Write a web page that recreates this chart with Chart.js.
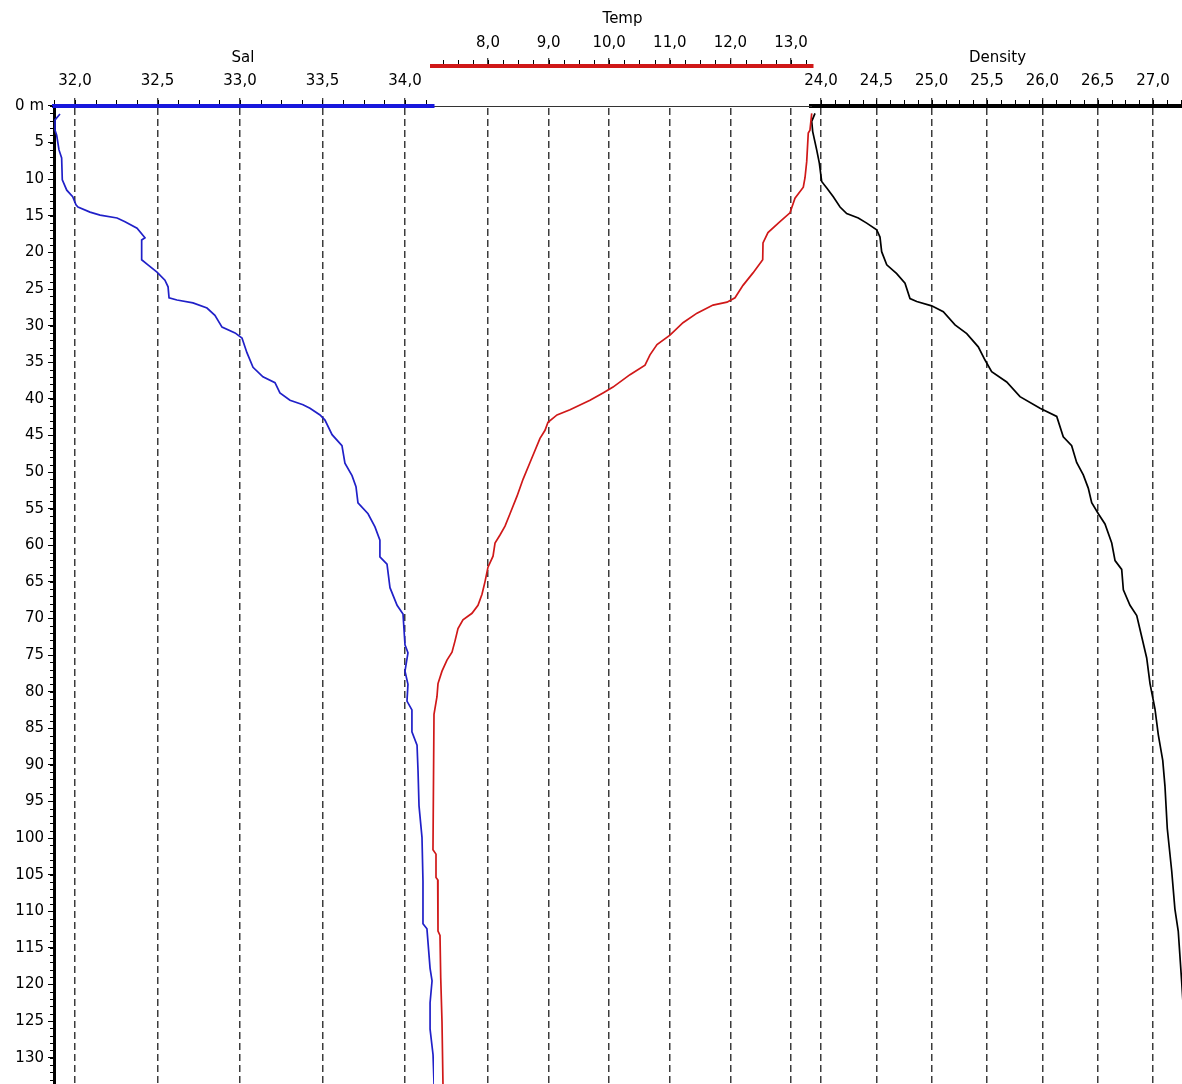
<!DOCTYPE html>
<html>
<head>
<meta charset="utf-8">
<script src="https://cdn.jsdelivr.net/npm/chart.js@4.4.1/dist/chart.umd.min.js"></script>
<style>
  html, body { margin: 0; padding: 0; background: #fff; }
  canvas { display: block; }
</style>
</head>
<body>
<canvas id="profile" width="1182" height="1084"></canvas>
<script>
// CTD cast: salinity, temperature and density against depth (m)
const depthTicks = [0, 5, 10, 15, 20, 25, 30, 35, 40, 45, 50, 55, 60, 65,
  70, 75, 80, 85, 90, 95, 100, 105, 110, 115, 120, 125, 130];
const salTicks = [32.0, 32.5, 33.0, 33.5, 34.0];
const tempTicks = [8, 9, 10, 11, 12, 13];
const densTicks = [24.0, 24.5, 25.0, 25.5, 26.0, 26.5, 27.0];

const salDepth = [1.1, 1.9, 3.3, 4.0, 6.0, 7.1, 10.1, 11.5, 12.4, 13.5, 13.8, 14.5,
  14.9, 15.3, 15.8, 16.7, 18.0, 18.3, 21.0, 21.7, 22.7, 23.8, 24.7, 26.2, 26.5,
  26.9, 27.6, 28.6, 30.2, 31.0, 31.7, 33.7, 35.7, 37.0, 37.8, 39.2, 40.2, 40.8,
  41.3, 42.2, 42.9, 44.9, 46.4, 48.8, 50.5, 52.0, 54.2, 55.7, 57.5, 59.3, 61.6,
  62.6, 65.8, 68.2, 69.4, 73.6, 74.7, 77.2, 79.0, 81.3, 82.5, 85.5, 87.3, 90.8,
  95.6, 99.9, 105.9, 111.7, 112.4, 117.8, 119.5, 122.5, 126.1, 129.6, 133.6];
const salValues = [31.909, 31.879, 31.879, 31.889, 31.903, 31.919, 31.923, 31.950,
  31.986, 32.006, 32.018, 32.091, 32.152, 32.255, 32.303, 32.376, 32.424, 32.404,
  32.404, 32.442, 32.497, 32.545, 32.564, 32.570, 32.618, 32.715, 32.800, 32.848,
  32.891, 32.970, 33.012, 33.042, 33.079, 33.139, 33.212, 33.242, 33.303, 33.382,
  33.424, 33.485, 33.515, 33.558, 33.618, 33.636, 33.679, 33.703, 33.715, 33.776,
  33.818, 33.848, 33.848, 33.891, 33.909, 33.952, 33.988, 34.000, 34.018, 34.000,
  34.018, 34.012, 34.042, 34.042, 34.073, 34.079, 34.085, 34.103, 34.109, 34.109,
  34.133, 34.152, 34.164, 34.152, 34.152, 34.170, 34.176];

const tempDepth = [1.0, 3.3, 3.7, 7.6, 9.8, 11.1, 12.6, 14.6, 15.8, 17.3, 18.7, 21.0,
  22.8, 24.5, 26.2, 26.8, 27.2, 28.3, 29.6, 31.3, 32.6, 34.0, 35.4, 36.7, 38.4,
  39.2, 40.2, 41.5, 42.2, 43.2, 44.3, 45.4, 48.7, 51.0, 53.3, 55.7, 57.4, 58.6,
  59.7, 61.5, 63.0, 65.0, 66.7, 68.2, 69.3, 70.2, 71.4, 73.1, 74.6, 75.7, 77.2,
  78.9, 80.7, 83.1, 101.6, 102.2, 105.4, 105.7, 112.7, 113.3, 119.1, 125.1, 133.6];
const tempValues = [13.342, 13.313, 13.285, 13.259, 13.231, 13.203, 13.066, 12.983,
  12.818, 12.620, 12.538, 12.533, 12.373, 12.208, 12.076, 11.944, 11.713, 11.449,
  11.218, 11.003, 10.789, 10.673, 10.591, 10.343, 10.063, 9.898, 9.683, 9.353,
  9.139, 8.990, 8.941, 8.858, 8.693, 8.578, 8.479, 8.363, 8.281, 8.198, 8.116,
  8.083, 8.000, 7.950, 7.901, 7.835, 7.736, 7.587, 7.505, 7.455, 7.406, 7.323,
  7.241, 7.175, 7.158, 7.109, 7.092, 7.142, 7.142, 7.170, 7.175, 7.208, 7.220,
  7.241, 7.257];

const densDepth = [1.0, 2.1, 3.5, 6.0, 7.8, 10.3, 11.2, 12.4, 13.8, 14.7, 15.3, 16.0,
  16.9, 17.9, 19.9, 21.7, 22.9, 24.2, 26.3, 26.7, 27.3, 28.1, 29.9, 31.1, 32.9,
  34.7, 36.3, 37.7, 39.7, 41.3, 42.4, 45.2, 46.4, 48.7, 50.4, 52.2, 54.2, 55.7,
  57.1, 59.7, 62.1, 63.3, 66.1, 68.2, 69.6, 72.5, 75.4, 78.9, 82.4, 85.9, 89.4,
  92.9, 98.7, 104.5, 109.7, 112.7, 119.6, 127.0];
const densValues = [23.946, 23.916, 23.925, 23.961, 23.985, 24.006, 24.052, 24.111,
  24.172, 24.232, 24.337, 24.413, 24.503, 24.533, 24.548, 24.594, 24.684, 24.759,
  24.804, 24.865, 25.000, 25.105, 25.211, 25.317, 25.421, 25.482, 25.542, 25.678,
  25.798, 25.979, 26.130, 26.189, 26.265, 26.310, 26.370, 26.415, 26.446, 26.506,
  26.566, 26.627, 26.657, 26.717, 26.732, 26.792, 26.853, 26.898, 26.943, 26.973,
  27.018, 27.048, 27.088, 27.108, 27.129, 27.169, 27.198, 27.228, 27.259, 27.290];

const FONT = { family: "'DejaVu Sans', sans-serif", size: 15 };
const BLUE = '#2020c8';
const RED = '#d01818';
const INK = '#000';

function pairs(depths, values) {
  return depths.map((d, i) => ({ x: values[i], y: d }));
}
function comma(v) {
  return v.toFixed(1).replace('.', ',');
}
function fixedTicks(list) {
  return scale => { scale.ticks = list.map(value => ({ value })); };
}
function rowHeight(h) {
  return scale => { scale.height = h; scale.paddingLeft = 0; scale.paddingRight = 0; };
}

// value axis on top: coloured bar, labelled major ticks, dashed lines down the plot
function valueAxis(stackWeight, min, max, list, color, pad) {
  return {
    type: 'linear', axis: 'x', position: 'top', stack: 'lo', weight: 1,
    stackWeight, min, max, bounds: 'data', display: true,
    afterBuildTicks: fixedTicks(list),
    afterFit: rowHeight(40),
    ticks: { font: FONT, color: INK, padding: pad, maxRotation: 0, autoSkip: false, callback: comma },
    grid: { color: '#3c3c3c', lineWidth: 1.5, tickLength: 8, tickColor: INK, tickWidth: 1 },
    border: { color, width: 4, dash: [7, 4] }
  };
}
// empty header cell that only carries a title
function titleCell(stackWeight, text) {
  return {
    type: 'linear', axis: 'x', position: 'top', stack: 'hi', weight: 2,
    stackWeight, min: 0, max: 1, display: true,
    afterFit: rowHeight(66),
    ticks: { display: false },
    grid: { display: false, drawTicks: false },
    border: { display: false },
    title: { display: !!text, text, font: FONT, color: INK, padding: { top: 49, bottom: 0 } }
  };
}

const tempAxis = valueAxis(381, 7.076, 13.363, tempTicks, RED, 6);
tempAxis.stack = 'hi';
tempAxis.weight = 2;
tempAxis.afterFit = rowHeight(66);
tempAxis.title = { display: true, text: 'Temp', font: FONT, color: INK, padding: { top: 10, bottom: 0 } };

// short unlabelled ticks between the major ones
const minorTicks = {
  id: 'minorTicks',
  afterDraw(chart, args, opts) {
    const ctx = chart.ctx;
    ctx.save();
    ctx.strokeStyle = INK;
    ctx.lineWidth = 1;
    ctx.beginPath();
    for (const m of opts.marks) {
      const s = chart.scales[m.scale];
      const lo = Math.min(s.min, s.max), hi = Math.max(s.min, s.max);
      for (let k = Math.ceil(lo / m.step - 1e-9); k * m.step <= hi + 1e-9; k++) {
        const p = Math.round(s.getPixelForValue(k * m.step)) + 0.5;
        if (s.isHorizontal()) {
          ctx.moveTo(p, s.bottom - 6);
          ctx.lineTo(p, s.bottom - 2);
        } else {
          ctx.moveTo(s.right - 4, p);
          ctx.lineTo(s.right - 1, p);
        }
      }
    }
    ctx.stroke();
    ctx.restore();
  }
};

new Chart(document.getElementById('profile'), {
  type: 'scatter',
  data: {
    datasets: [
      { label: 'Sal', data: pairs(salDepth, salValues), xAxisID: 'sal', yAxisID: 'y',
        borderColor: BLUE, borderWidth: 1.7, showLine: true, pointRadius: 0, tension: 0 },
      { label: 'Temp', data: pairs(tempDepth, tempValues), xAxisID: 'temp', yAxisID: 'y',
        borderColor: RED, borderWidth: 1.7, showLine: true, pointRadius: 0, tension: 0 },
      { label: 'Density', data: pairs(densDepth, densValues), xAxisID: 'dens', yAxisID: 'y',
        borderColor: INK, borderWidth: 1.7, showLine: true, pointRadius: 0, tension: 0 }
    ]
  },
  options: {
    responsive: false,
    animation: false,
    devicePixelRatio: 1,
    events: [],
    layout: { padding: 0 },
    plugins: {
      legend: { display: false },
      tooltip: { enabled: false },
      minorTicks: {
        marks: [
          { scale: 'y', step: 1 },
          { scale: 'sal', step: 0.125 },
          { scale: 'temp', step: 0.25 },
          { scale: 'dens', step: 0.125 }
        ]
      }
    },
    scales: {
      y: {
        type: 'linear', position: 'left', reverse: true, min: 0, max: 133.6, bounds: 'data',
        afterBuildTicks: fixedTicks(depthTicks),
        afterFit: s => { s.width = 54; s.paddingTop = 0; s.paddingBottom = 0; },
        ticks: { font: FONT, color: INK, padding: 4, autoSkip: false,
          callback: v => (v === 0 ? '0 m' : String(v)) },
        grid: { drawOnChartArea: false, tickLength: 6, tickColor: INK, tickWidth: 1 },
        border: { color: INK, width: 3 }
      },
      // header row, placed right to left
      densTitle: titleCell(369, 'Density'),
      temp: tempAxis,
      salTitle: titleCell(378, 'Sal'),
      // axis row, placed right to left
      dens: valueAxis(371, 23.9096, 27.262, densTicks, INK, 8),
      gap: {
        type: 'linear', axis: 'x', position: 'top', stack: 'lo', weight: 1,
        stackWeight: 377, min: 0, max: 1, display: true,
        afterFit: rowHeight(40),
        ticks: { display: false },
        grid: { display: false, drawTicks: false },
        border: { color: '#333', width: 1 }
      },
      sal: valueAxis(380, 31.8727, 34.1758, salTicks, '#1818dc', 8)
    }
  },
  plugins: [minorTicks]
});
</script>
</body>
</html>
